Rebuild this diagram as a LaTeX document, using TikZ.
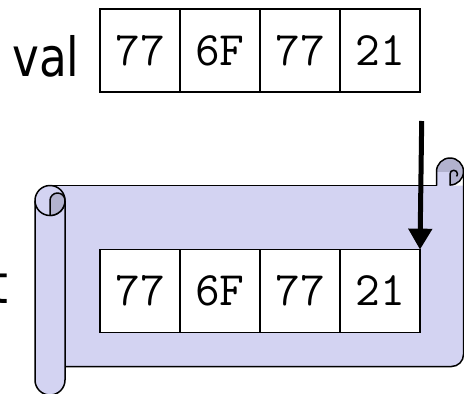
\documentclass[tikz,border=0pt]{standalone}
\usepackage{fontspec}
\usetikzlibrary{arrows.meta}
\newfontfamily\labelfont[FakeStretch=0.84]{DejaVu Sans}
\newfontfamily\hexfont{Latin Modern Mono}
\definecolor{sheetfill}{RGB}{211,211,242}
\definecolor{curlfill}{RGB}{178,178,206}
\tikzset{
  outline/.style={line width=1.5pt, line join=round},
  cell/.style={draw, line width=1.5pt, fill=white, minimum width=80pt,
    minimum height=82.7pt, inner sep=0pt, outer sep=0pt,
    font=\hexfont\fontsize{48}{54}\selectfont},
  biglabel/.style={inner sep=0pt, anchor=base west,
    font=\labelfont\fontsize{54}{60}\selectfont},
  copyarrow/.style={line width=5pt, -{Triangle[length=21pt,width=23pt]}}
}
\begin{document}
\begin{tikzpicture}[x=1pt,y=1pt]
\useasboundingbox (0,0) rectangle (464,-394);
\clip (0,0) rectangle (464,-394);

% scroll sheet
\fill[sheetfill] (50,-185.5) -- (463.5,-185.5) -- (463.5,-354.5)
  arc[start angle=0,end angle=-90,radius=12] -- (50,-366.5) -- cycle;
\draw[outline] (50,-185.5) -- (450,-185.5);
\draw[outline] (463.5,-171.5) -- (463.5,-354.5)
  arc[start angle=0,end angle=-90,radius=12] -- (65,-366.5);

% top right curl
\fill[curlfill] (450,-171.5) circle[radius=13.5];
\fill[sheetfill] (436.5,-171.5) rectangle (450,-185.5);
\draw[outline] (436.5,-185.5) -- (436.5,-171.5)
  arc[start angle=180,end angle=-90,radius=13.5];
\draw[outline] (450,-185.5) -- (450,-174)
  arc[start angle=180,end angle=-40,radius=3.75];

% left roller
\fill[sheetfill] (35,-200.5) -- (35,-380)
  arc[start angle=180,end angle=360,radius=15] -- (65,-200.5) -- cycle;
\draw[outline] (35,-200.5) -- (35,-380)
  arc[start angle=180,end angle=360,radius=15] -- (65,-200.5);
\filldraw[outline, fill=sheetfill] (50,-200.5) circle[radius=15];
\filldraw[outline, fill=curlfill] (50,-215.5)
  arc[start angle=-90,end angle=0,radius=15]
  arc[start angle=0,end angle=180,radius=7.5] -- cycle;

% labels
\node[biglabel] (vallabel) at (12,-76) {val};
\node[biglabel] (dstlabel) at (-10,-303) {t};

% source bytes
\node[cell] (v1) at (140,-50.5) {77};
\node[cell] (v2) at (220,-50.5) {6F};
\node[cell] (v3) at (300,-50.5) {77};
\node[cell] (v4) at (380,-50.5) {21};

% bytes on the scroll
\node[cell] (s1) at (140,-291) {77};
\node[cell] (s2) at (220,-291) {6F};
\node[cell] (s3) at (300,-291) {77};
\node[cell] (s4) at (380,-291) {21};

% copy arrow
\coordinate (atail) at (421.7,-121);
\draw[copyarrow] (atail) -- (s4.north east);
\end{tikzpicture}
\end{document}
